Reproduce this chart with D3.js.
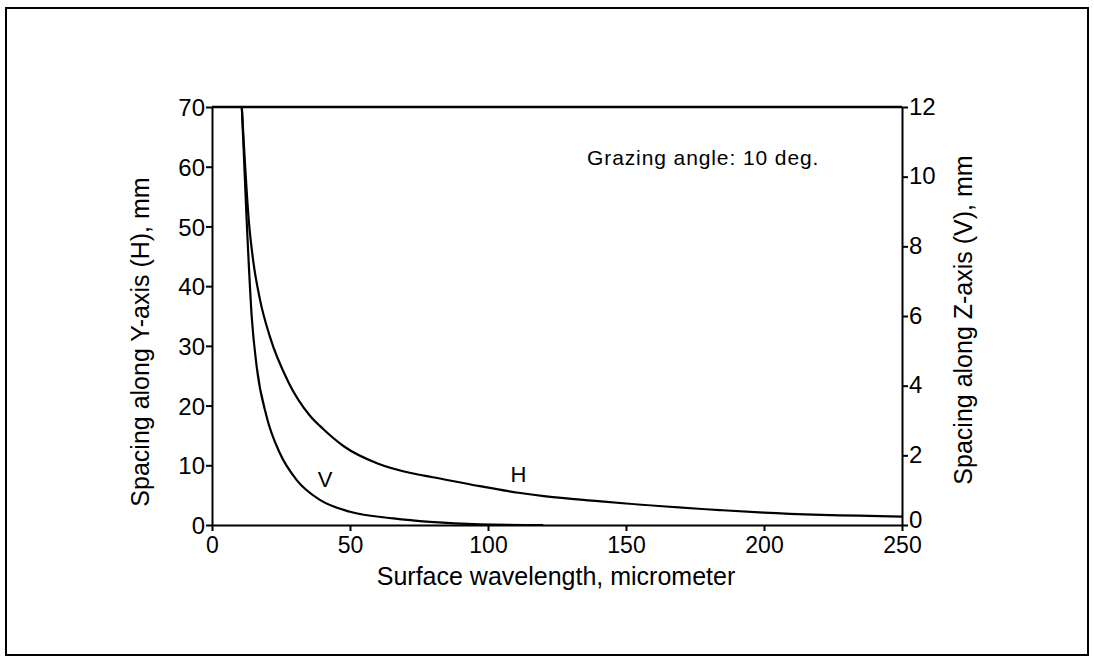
<!DOCTYPE html>
<html>
<head>
<meta charset="utf-8">
<script src="https://cdn.jsdelivr.net/npm/d3@7"></script>
<style>
  body { margin: 0; background: #fff; }
  text { font-family: "Liberation Sans", Arial, sans-serif; fill: #000; }
</style>
</head>
<body>
<div id="chart"></div>
<script>
// data
var wavelengthH = [10.8, 13.4, 15, 17.4, 21, 27.6, 35.5, 40, 48, 60, 72, 80, 97, 111, 121, 140, 150, 184, 200, 250];
var spacingH    = [70, 50.6, 44, 37.7, 31.5, 24.0, 18.3, 16.2, 13.1, 10.3, 8.7, 8.0, 6.5, 5.4, 4.8, 4.0, 3.6, 2.5, 2.06, 1.4];
var wavelengthV = [10.8, 12.6, 14.4, 16.2, 19.8, 24.6, 30.7, 39.1, 50, 65.7, 79, 97, 120];
var spacingV    = [12, 8.67, 5.97, 4.54, 3.11, 2.06, 1.29, 0.72, 0.38, 0.19, 0.09, 0.02, 0];
var xTicks  = [0, 50, 100, 150, 200, 250];
var yLTicks = [0, 10, 20, 30, 40, 50, 60, 70];
var yRTicks = [0, 2, 4, 6, 8, 10, 12];

var W = 1094, H = 666;
var plot = {left: 212, right: 902, top: 107, bottom: 525};

var svg = d3.select("#chart").append("svg")
    .attr("width", W)
    .attr("height", H);

// outer frame
svg.append("rect")
    .attr("x", 6).attr("y", 8)
    .attr("width", 1082).attr("height", 647)
    .attr("fill", "none")
    .attr("stroke", "#000")
    .attr("stroke-width", 2);

var x = d3.scaleLinear().domain([0, 250]).range([plot.left, plot.right]);
var yL = d3.scaleLinear().domain([0, 70]).range([plot.bottom, plot.top]);
var yR = d3.scaleLinear().domain([0, 12]).range([plot.bottom, plot.top]);

function styleAxis(g) {
  g.selectAll("path, line").attr("stroke", "#000").attr("stroke-width", 2);
  g.selectAll("text").attr("font-size", 24).style("font-family", "Liberation Sans, Arial, sans-serif");
}

svg.append("g")
    .attr("transform", "translate(0," + plot.bottom + ")")
    .call(d3.axisBottom(x).tickValues(xTicks).tickSize(6).tickSizeOuter(0).tickPadding(6))
    .call(styleAxis)
    .call(g => g.selectAll("text").attr("font-size", 23));

svg.append("g")
    .attr("transform", "translate(" + plot.left + ",0)")
    .call(d3.axisLeft(yL).tickValues(yLTicks).tickSize(6).tickSizeOuter(0).tickPadding(1))
    .call(styleAxis)
    .call(g => g.selectAll("text").attr("dy", "0.36em"));

svg.append("g")
    .attr("transform", "translate(" + plot.right + ",0)")
    .call(d3.axisRight(yR).tickValues(yRTicks).tickSize(6).tickSizeOuter(0).tickPadding(1))
    .call(styleAxis)
    .call(g => g.selectAll("text").attr("dy", d => d === 0 ? "0.1em" : "0.3em"));

// top border of plot
svg.append("line")
    .attr("x1", plot.left).attr("x2", plot.right)
    .attr("y1", plot.top).attr("y2", plot.top)
    .attr("stroke", "#000").attr("stroke-width", 2.5);

// curves
var lineH = d3.line()
    .x((d, i) => x(wavelengthH[i]))
    .y(d => yL(d))
    .curve(d3.curveMonotoneX);

var lineV = d3.line()
    .x((d, i) => x(wavelengthV[i]))
    .y(d => yR(d))
    .curve(d3.curveMonotoneX);

svg.append("path")
    .attr("d", lineH(spacingH))
    .attr("fill", "none").attr("stroke", "#000").attr("stroke-width", 2.2);

svg.append("path")
    .attr("d", lineV(spacingV))
    .attr("fill", "none").attr("stroke", "#000").attr("stroke-width", 2.2);

// labels
svg.append("text")
    .attr("x", x(41)).attr("y", yL(6.4))
    .attr("text-anchor", "middle")
    .attr("font-size", 22)
    .text("V");

svg.append("text")
    .attr("x", x(111)).attr("y", yL(7.2))
    .attr("text-anchor", "middle")
    .attr("font-size", 22)
    .text("H");

svg.append("text")
    .attr("x", 587).attr("y", 165)
    .attr("font-size", 21)
    .attr("letter-spacing", 0.9)
    .text("Grazing angle: 10 deg.");

svg.append("text")
    .attr("x", 556).attr("y", 585)
    .attr("text-anchor", "middle")
    .attr("font-size", 25)
    .text("Surface wavelength, micrometer");

svg.append("text")
    .attr("transform", "translate(149,342) rotate(-90)")
    .attr("text-anchor", "middle")
    .attr("font-size", 25)
    .text("Spacing along Y-axis (H), mm");

svg.append("text")
    .attr("transform", "translate(972,320) rotate(-90)")
    .attr("text-anchor", "middle")
    .attr("font-size", 25)
    .text("Spacing along Z-axis (V), mm");
</script>
</body>
</html>
